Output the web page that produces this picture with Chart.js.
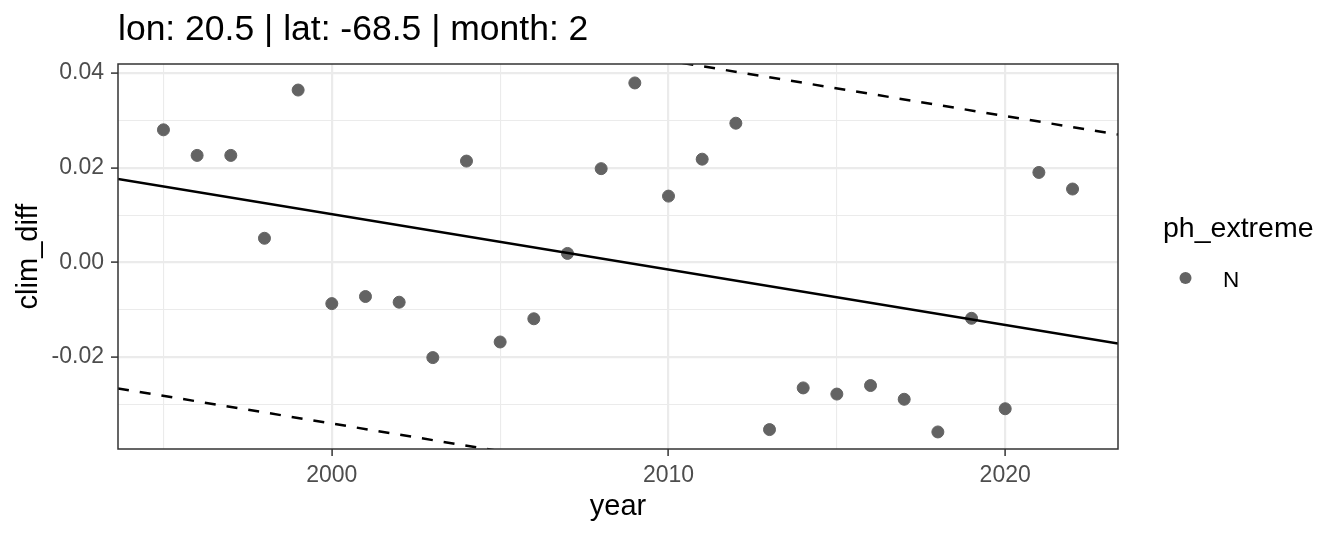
<!DOCTYPE html>
<html lang="en">
<head>
    <meta charset="UTF-8">
    <script src="https://cdn.jsdelivr.net/npm/chart.js"></script>
    <title>clim_diff by year</title>
    <style>
        body { margin: 0; background: #fff; }
    </style>
</head>
<body>
    <canvas id="climChart" width="1344" height="537"></canvas>
    <script>
        // values
        const years = [1995, 1996, 1997, 1998, 1999, 2000, 2001, 2002, 2003, 2004, 2005, 2006, 2007, 2008,
                       2009, 2010, 2011, 2012, 2013, 2014, 2015, 2016, 2017, 2018, 2019, 2020, 2021, 2022];
        const climDiff = [0.0280, 0.0226, 0.0226, 0.0051, 0.0364, -0.0087, -0.0072, -0.0084, -0.0201, 0.0214,
                          -0.0168, -0.0119, 0.0019, 0.0198, 0.0379, 0.0140, 0.0218, 0.0294, -0.0353, -0.0265,
                          -0.0278, -0.0260, -0.0289, -0.0358, -0.0118, -0.0309, 0.0190, 0.0155];

        // trend line and its dashed bounds, at the panel edges
        const lineX = [1993.65, 2023.35];
        const trendY = [0.0176, -0.0171];
        const upperY = [0.0617, 0.0270];
        const lowerY = [-0.0266, -0.0613];

        const xMajor = [2000, 2010, 2020];
        const xMinor = [1995, 2005, 2015];
        const yMajor = [-0.02, 0.00, 0.02, 0.04];
        const yMinor = [-0.03, -0.01, 0.01, 0.03];

        const FONT = '"Liberation Sans", Arial, sans-serif';
        const pointColor = '#636363';

        const toXY = (xs, ys) => xs.map((x, i) => ({ x: x, y: ys[i] }));
        const isMajor = (list, v) => list.some(m => Math.abs(m - v) < 1e-9);

        function setTicks(major, minor) {
            return function (scale) {
                scale.ticks = major.concat(minor).sort((a, b) => a - b).map(v => ({ value: v }));
            };
        }

        // panel border, title and legend like the ggplot output
        const decorations = {
            id: 'decorations',
            afterDatasetsDraw(chart) {
                const { ctx, chartArea: a } = chart;
                ctx.save();
                ctx.strokeStyle = '#333333';
                ctx.lineWidth = 1.5;
                ctx.strokeRect(a.left, a.top, a.right - a.left, a.bottom - a.top);
                ctx.restore();
            },
            afterDraw(chart) {
                const ctx = chart.ctx;
                ctx.save();
                ctx.fillStyle = '#000';
                ctx.textBaseline = 'alphabetic';
                ctx.textAlign = 'left';
                ctx.font = '35.5px ' + FONT;
                ctx.fillText('lon: 20.5 | lat: -68.5 | month: 2', 118, 40);

                ctx.font = '28.5px ' + FONT;
                ctx.fillText('ph_extreme', 1163, 237);
                ctx.beginPath();
                ctx.arc(1185.5, 278, 6, 0, Math.PI * 2);
                ctx.fillStyle = pointColor;
                ctx.fill();
                ctx.fillStyle = '#000';
                ctx.font = '22.5px ' + FONT;
                ctx.fillText('N', 1223, 287);
                ctx.restore();
            }
        };

        const ctx = document.getElementById('climChart').getContext('2d');
        const climChart = new Chart(ctx, {
            type: 'scatter',
            data: {
                datasets: [
                    {
                        label: 'fit',
                        type: 'line',
                        data: toXY(lineX, trendY),
                        borderColor: '#000',
                        borderWidth: 2.5,
                        pointRadius: 0,
                        fill: false,
                        order: 0
                    },
                    {
                        label: 'upper',
                        type: 'line',
                        data: toXY(lineX, upperY),
                        borderColor: '#000',
                        borderWidth: 2.5,
                        borderDash: [11, 11],
                        pointRadius: 0,
                        fill: false,
                        order: 0
                    },
                    {
                        label: 'lower',
                        type: 'line',
                        data: toXY(lineX, lowerY),
                        borderColor: '#000',
                        borderWidth: 2.5,
                        borderDash: [11, 11],
                        pointRadius: 0,
                        fill: false,
                        order: 0
                    },
                    {
                        label: 'N',
                        data: toXY(years, climDiff),
                        backgroundColor: pointColor,
                        borderColor: pointColor,
                        pointRadius: 6,
                        pointHoverRadius: 6,
                        order: 1
                    }
                ]
            },
            options: {
                responsive: false,
                animation: false,
                events: [],
                layout: {
                    padding: { left: 0, top: 64, right: 226, bottom: 0 }
                },
                plugins: {
                    legend: { display: false },
                    tooltip: { enabled: false },
                    title: { display: false }
                },
                scales: {
                    x: {
                        type: 'linear',
                        min: 1993.65,
                        max: 2023.35,
                        afterBuildTicks: setTicks(xMajor, xMinor),
                        afterFit(scale) { scale.height = 88; },
                        border: { display: false },
                        grid: {
                            color: '#EBEBEB',
                            lineWidth: c => isMajor(xMajor, c.tick.value) ? 2.2 : 1.1,
                            tickColor: c => isMajor(xMajor, c.tick.value) ? '#333333' : 'rgba(0,0,0,0)',
                            tickLength: 7,
                            tickWidth: 1.5
                        },
                        ticks: {
                            autoSkip: false,
                            maxRotation: 0,
                            padding: 6,
                            color: '#4D4D4D',
                            font: { family: FONT, size: 23 },
                            callback: v => isMajor(xMajor, v) ? String(v) : ''
                        },
                        title: {
                            display: true,
                            text: 'year',
                            color: '#000',
                            font: { family: FONT, size: 29 },
                            padding: { top: 0, bottom: 13 }
                        }
                    },
                    y: {
                        type: 'linear',
                        min: -0.0394,
                        max: 0.0419,
                        afterBuildTicks: setTicks(yMajor, yMinor),
                        afterFit(scale) { scale.width = 118; },
                        border: { display: false },
                        grid: {
                            color: '#EBEBEB',
                            lineWidth: c => isMajor(yMajor, c.tick.value) ? 2.2 : 1.1,
                            tickColor: c => isMajor(yMajor, c.tick.value) ? '#333333' : 'rgba(0,0,0,0)',
                            tickLength: 7,
                            tickWidth: 1.5
                        },
                        ticks: {
                            autoSkip: false,
                            padding: 7,
                            color: '#4D4D4D',
                            font: { family: FONT, size: 23 },
                            callback: v => isMajor(yMajor, v) ? v.toFixed(2) : ''
                        },
                        title: {
                            display: true,
                            text: 'clim_diff',
                            color: '#000',
                            font: { family: FONT, size: 29 },
                            padding: { top: 12, bottom: 0 }
                        }
                    }
                }
            },
            plugins: [decorations]
        });
    </script>
</body>
</html>
